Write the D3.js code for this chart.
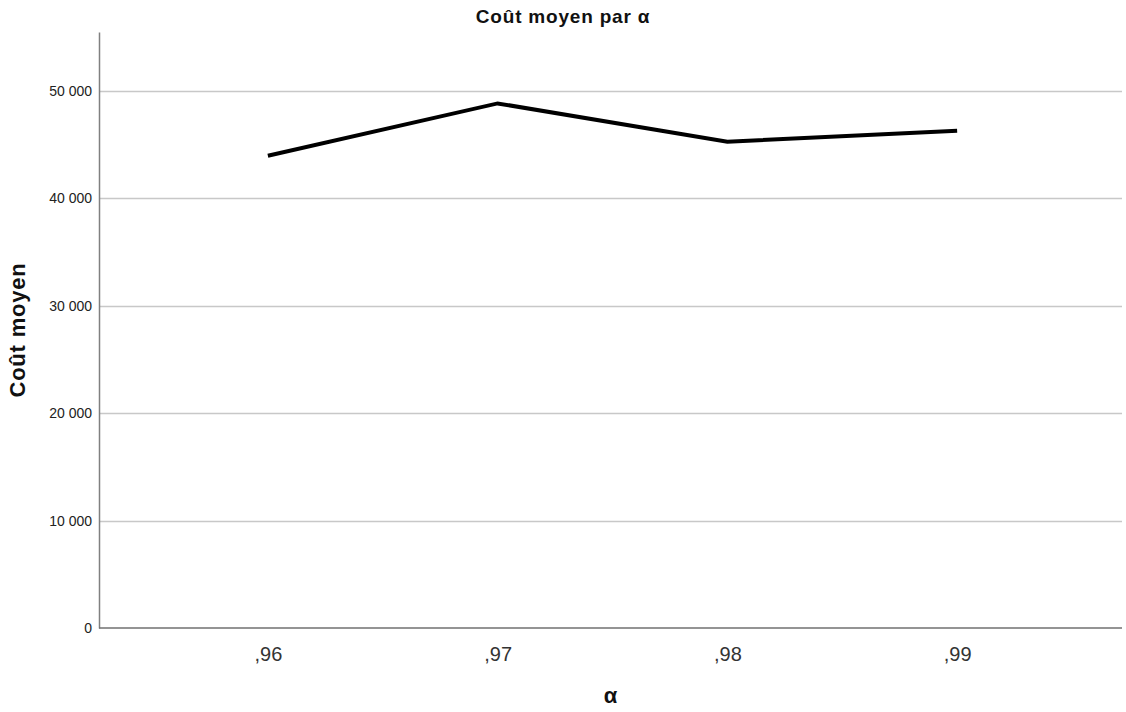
<!DOCTYPE html>
<html>
<head>
<meta charset="utf-8">
<script src="https://cdn.jsdelivr.net/npm/d3@7"></script>
<style>
  body { margin: 0; background: #fff; }
  svg { display: block; font-family: "Liberation Sans", Arial, sans-serif; }
</style>
</head>
<body>
<div id="chart"></div>
<script>
// data
const alphas = [',96', ',97', ',98', ',99'];
const meanCost = [43980, 48850, 45280, 46300];
const yTicks = [0, 10000, 20000, 30000, 40000, 50000];
const yTickLabels = ['0', '10 000', '20 000', '30 000', '40 000', '50 000'];

const width = 1126;
const height = 712;
const margin = {top: 32, right: 4, bottom: 84, left: 99};

const svg = d3.select('#chart')
  .append('svg')
  .attr('width', width)
  .attr('height', height);

const x = d3.scalePoint()
  .domain(alphas)
  .range([margin.left, width])
  .padding(0.735);

const y = d3.scaleLinear()
  .domain([0, 55500])
  .range([height - margin.bottom, margin.top]);

// gridlines
svg.append('g')
  .selectAll('line')
  .data(yTicks.slice(1))
  .enter()
  .append('line')
  .attr('x1', margin.left)
  .attr('x2', width - margin.right)
  .attr('y1', d => Math.round(y(d)) + 0.5)
  .attr('y2', d => Math.round(y(d)) + 0.5)
  .attr('stroke', '#c8c8c8')
  .attr('stroke-width', 1.5);

// y axis
const yAxis = svg.append('g')
  .attr('transform', `translate(${margin.left},0)`)
  .call(d3.axisLeft(y)
    .tickValues(yTicks)
    .tickFormat((d, i) => yTickLabels[i])
    .tickSize(0)
    .tickPadding(7));
yAxis.select('.domain').attr('stroke', '#808080').attr('stroke-width', 1.5);
yAxis.selectAll('text')
  .attr('font-size', 14)
  .attr('fill', '#222');

// x axis (domain drawn by hand so it stops at the plot edge)
const xAxis = svg.append('g')
  .attr('transform', `translate(0,${height - margin.bottom})`)
  .call(d3.axisBottom(x).tickSize(0).tickPadding(19));
xAxis.select('.domain').remove();
xAxis.append('line')
  .attr('x1', margin.left)
  .attr('x2', width - margin.right)
  .attr('stroke', '#707070')
  .attr('stroke-width', 1.5);
xAxis.selectAll('text')
  .attr('font-size', 20)
  .attr('fill', '#333');

// the line
const line = d3.line()
  .x((d, i) => x(alphas[i]))
  .y(d => y(d));

svg.append('path')
  .datum(meanCost)
  .attr('fill', 'none')
  .attr('stroke', '#000')
  .attr('stroke-width', 4)
  .attr('d', line);

// titles
svg.append('text')
  .attr('x', width / 2)
  .attr('y', 23)
  .attr('text-anchor', 'middle')
  .attr('font-size', 19)
  .attr('font-weight', 'bold')
  .attr('letter-spacing', 0.8)
  .attr('fill', '#111')
  .text('Coût moyen par α');

svg.append('text')
  .attr('transform', `translate(25,${(margin.top + height - margin.bottom) / 2}) rotate(-90)`)
  .attr('text-anchor', 'middle')
  .attr('font-size', 22)
  .attr('font-weight', 'bold')
  .attr('letter-spacing', 0.8)
  .attr('fill', '#111')
  .text('Coût moyen');

svg.append('text')
  .attr('x', (margin.left + width - margin.right) / 2)
  .attr('y', 703)
  .attr('text-anchor', 'middle')
  .attr('font-size', 22)
  .attr('font-weight', 'bold')
  .attr('fill', '#111')
  .text('α');
</script>
</body>
</html>
